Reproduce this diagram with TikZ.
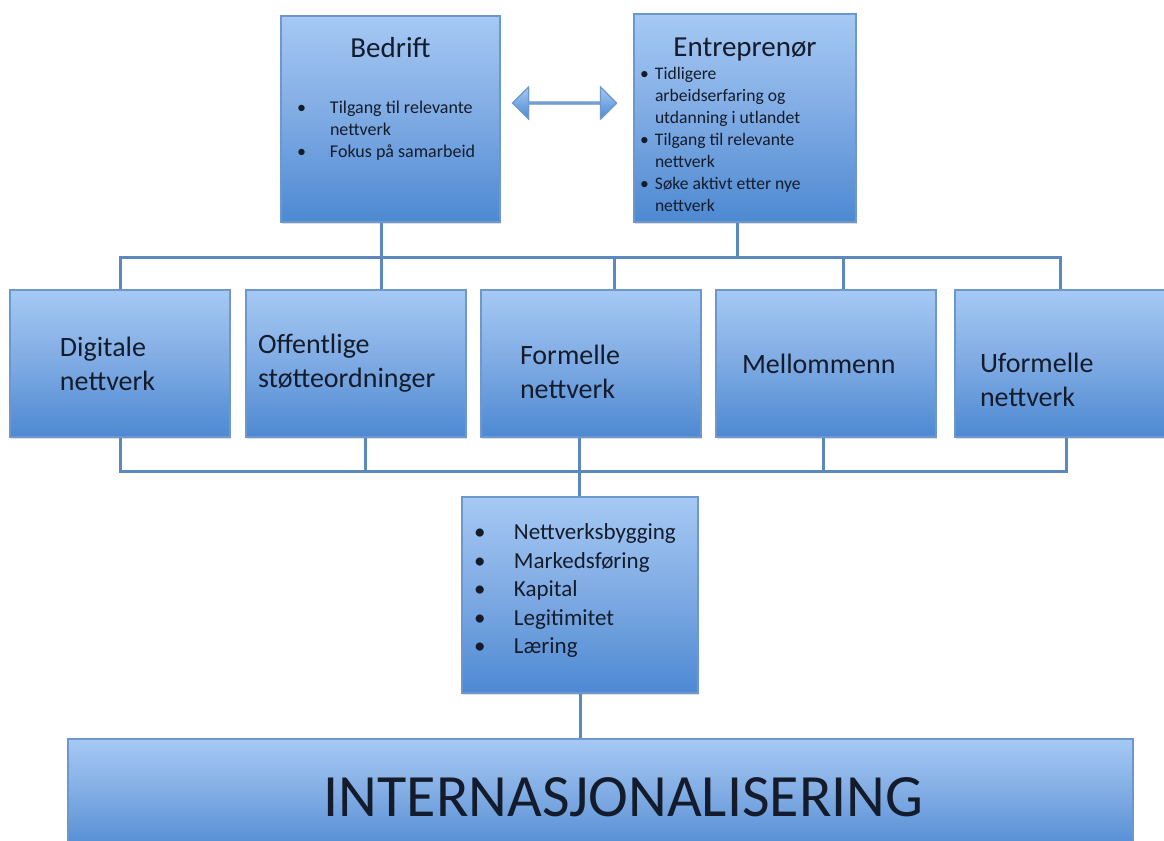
\documentclass[tikz,border=0pt]{standalone}
\usepackage{fontspec}
\setmainfont{Carlito}
\usepackage{tikz}
\usetikzlibrary{positioning, shapes.arrows, shadows}

\definecolor{boxtop}{HTML}{A6C9F4}
\definecolor{boxmid}{HTML}{7EAAE3}
\definecolor{boxbot}{HTML}{4D89D2}
\definecolor{boxline}{HTML}{6C98CE}
\definecolor{busline}{HTML}{5B88BF}
\definecolor{tekst}{HTML}{141C2B}

% kulepunkt med hengende innrykk: #1 = kule, #2 = tekst
\newcommand{\pkt}[3]{\par\noindent\hangindent=#2\hangafter=1\makebox[#2][l]{\hspace*{#1}\textbullet}#3}

\begin{document}
\begin{tikzpicture}[x=0.5pt,y=-0.5pt]
					\tikzstyle{boks}=[draw=boxline, line width=0.6pt, top color=boxtop, bottom color=boxbot, middle color=boxmid, text=tekst, drop shadow={opacity=0.25, shadow xshift=0.6pt, shadow yshift=-0.8pt}]
					\tikzstyle{topp}=[boks, inner sep=0pt]
					\tikzstyle{midt}=[boks, minimum width=110pt, minimum height=73.5pt, inner xsep=0pt, align=left, font=\fontsize{14}{17}\selectfont]
					\tikzstyle{pil}=[double arrow, draw=boxline, line width=0.6pt, top color=boxtop, bottom color=boxbot, minimum height=52pt, minimum width=16pt, double arrow head extend=4.75pt, double arrow head indent=0pt, inner sep=0pt, drop shadow={opacity=0.2, shadow xshift=0.5pt, shadow yshift=-0.6pt}]
					\tikzstyle{bus}=[draw=busline, line width=1.5pt]
					\useasboundingbox[fill=white] (0,0) rectangle (1164,841);

					\node[topp](bedrift) at (390.5,119) {\parbox[c][103pt][t]{109.5pt}{\vspace*{10.5pt}{\centering\fontsize{14.5}{17}\selectfont Bedrift\par}\vspace{17pt}\fontsize{9}{11}\selectfont\raggedright
						\pkt{8pt}{24.5pt}{Tilgang til relevante\newline nettverk}
						\pkt{8pt}{24.5pt}{Fokus på samarbeid}}};
					\node[topp](entreprenor) at (745,118) {\parbox[c][104pt][t]{111pt}{\vspace*{12pt}{\centering\fontsize{14.5}{17}\selectfont Entreprenør\par}\vspace{0.5pt}\fontsize{8.8}{11}\selectfont\raggedright
						\pkt{3pt}{10.5pt}{Tidligere\newline arbeidserfaring og\newline utdanning i utlandet}
						\pkt{3pt}{10.5pt}{Tilgang til relevante\newline nettverk}
						\pkt{3pt}{10.5pt}{Søke aktivt etter nye\newline nettverk}}};
					\node[pil](samspill) at (564.5,103) {};

					\node[midt, text width=60pt](digitale) at (120,363.5) {Digitale\\nettverk};
					\node[midt, text width=98pt](offentlige) at (356,363.5) {Offentlige\\støtteordninger};
					\node[midt, text width=71pt](formelle) at (591,363.5) {\rule{0pt}{18pt}Formelle\\nettverk};
					\node[midt, text width=84pt](mellommenn) at (826,363.5) {Mellommenn};
					\node[midt, text width=85pt](uformelle) at (1065,363.5) {\rule{0pt}{26pt}Uformelle\\nettverk};

					\node[topp](punkter) at (580,595) {\parbox[c][98pt][t]{118pt}{\vspace*{13.5pt}\fontsize{11.5}{14.2}\selectfont\raggedright
						\pkt{6pt}{26pt}{Nettverksbygging}
						\pkt{6pt}{26pt}{Markedsføring}
						\pkt{6pt}{26pt}{Kapital}
						\pkt{6pt}{26pt}{Legitimitet}
						\pkt{6pt}{26pt}{Læring}}};

					\node[boks, minimum width=532.5pt, minimum height=58pt, font=\fontsize{30}{36}\selectfont](intern) at (600.5,797) {\hspace*{23pt}INTERNASJONALISERING};

					\coordinate (t1) at (120,257);
					\coordinate (t2) at (381,257);
					\coordinate (t3) at (614,257);
					\coordinate (t4) at (737,257);
					\coordinate (t5) at (843,257);
					\coordinate (t6) at (1060,257);
					\coordinate (u1) at (120,471);
					\coordinate (u2) at (365,471);
					\coordinate (u3) at (579,471);
					\coordinate (u4) at (823,471);
					\coordinate (u5) at (1066,471);

					\draw[bus] (digitale.north -| t1) -- (t1) -- (t6) -- (uformelle.north -| t6);
					\draw[bus]
						(bedrift.south -| t2) edge (offentlige.north -| t2)
						(entreprenor.south -| t4) edge (t4)
						(t3) edge (formelle.north -| t3)
						(t5) edge (mellommenn.north -| t5);

					\draw[bus] (digitale.south -| u1) -- (u1) -- (u5) -- (uformelle.south -| u5);
					\draw[bus]
						(offentlige.south -| u2) edge (u2)
						(formelle.south -| u3) edge (punkter.north -| u3)
						(mellommenn.south -| u4) edge (u4)
						(punkter.south) edge (intern.north -| punkter.south);
				\end{tikzpicture}
\end{document}
